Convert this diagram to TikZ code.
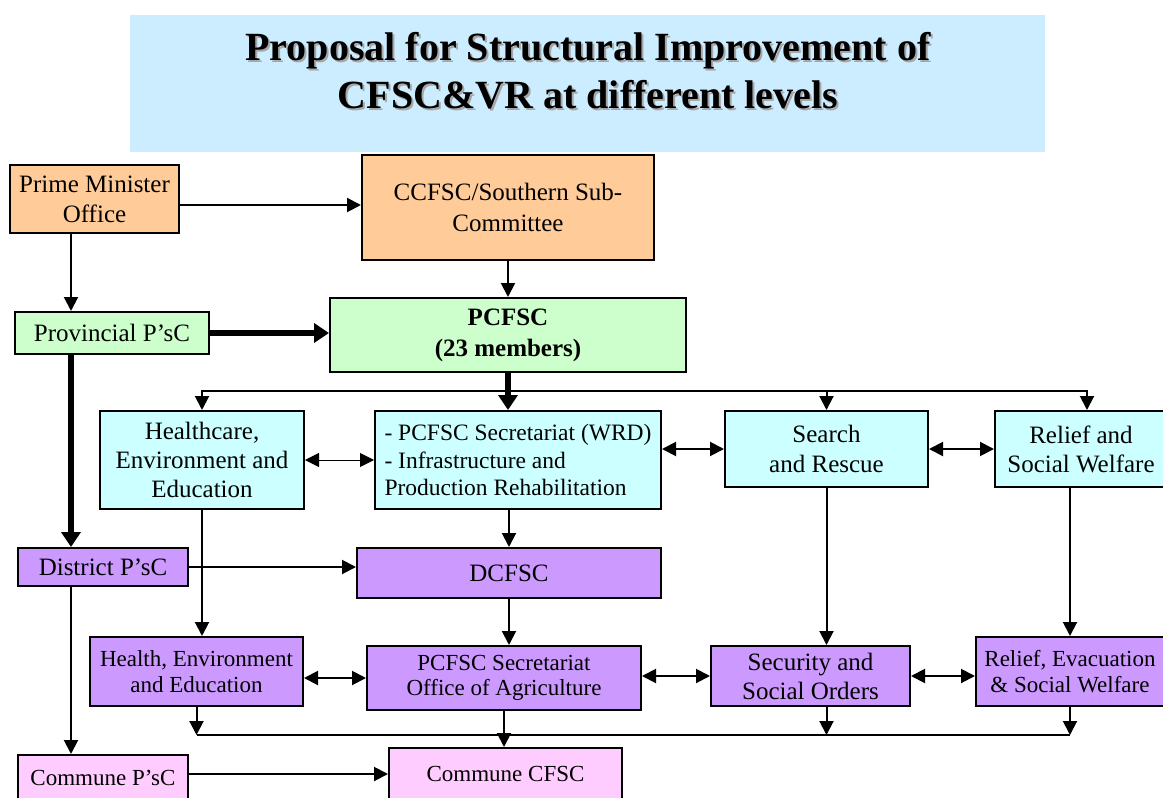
\documentclass[tikz,border=0pt]{standalone}
\usepackage{fontspec}
\setmainfont{Liberation Serif}
\usepackage{xcolor}
\usetikzlibrary{arrows.meta, positioning, calc}
\definecolor{titlebg}{HTML}{CCECFF}
\definecolor{orangebox}{HTML}{FFCC99}
\definecolor{greenbox}{HTML}{CCFFCC}
\definecolor{cyanbox}{HTML}{CCFFFF}
\definecolor{purplebox}{HTML}{CC99FF}
\definecolor{pinkbox}{HTML}{FFCCFF}

\begin{document}
\begin{tikzpicture}[
    x=1pt, y=-1pt,
    unit/.style={draw=black, line width=2pt, inner sep=3pt, align=center, font=\fontsize{25}{29}\selectfont},
    smallunit/.style={unit, font=\fontsize{23}{25.5}\selectfont},
    arrow/.style={-{Triangle[length=14pt, width=14pt]}, line width=2pt},
    twoway/.style={{Triangle[length=14pt, width=14pt]}-{Triangle[length=14pt, width=14pt]}, line width=2pt},
    heavy/.style={-{Triangle[length=15pt, width=19pt]}, line width=5.5pt}
]
\useasboundingbox (0,0) rectangle (1163,798);

% Title
\node[fill=titlebg, minimum width=915pt, minimum height=137pt, inner sep=0pt] (titlebox) at (587.5,83.5) {};
\node[text=black!35, font=\fontsize{40}{48}\selectfont\bfseries, align=center] (titleshadow) at (590,73) {Proposal for Structural Improvement of\\CFSC\&VR at different levels};
\node[font=\fontsize{40}{48}\selectfont\bfseries, align=center] (title) at (588,71) {Proposal for Structural Improvement of\\CFSC\&VR at different levels};

\coordinate (lcol) at (71,0);
\coordinate (bus1) at (0,391);
\coordinate (bus2) at (0,735);

% Central level
\node[unit, fill=orangebox, minimum width=169pt, minimum height=68pt, font=\fontsize{25}{30}\selectfont] (pmo) at (94.5,199) {Prime Minister\\Office};
\node[unit, fill=orangebox, minimum width=292pt, minimum height=105pt, font=\fontsize{25}{31}\selectfont] (ccfsc) at (508,207.5) {CCFSC/Southern Sub-\\Committee};

% Provincial level
\node[unit, fill=greenbox, minimum width=194pt, minimum height=42pt] (prov) at (112,333) {Provincial P'sC};
\node[unit, fill=greenbox, minimum width=356pt, minimum height=74pt, font=\fontsize{25}{31}\selectfont\bfseries] (pcfsc) at (508,335) {PCFSC\\(23 members)};

\node[unit, fill=cyanbox, minimum width=204pt, minimum height=98pt] (health) at (202,460) {Healthcare,\\Environment and\\Education};
\node[unit, fill=cyanbox, minimum width=286pt, minimum height=98pt, align=left, font=\fontsize{23.5}{27.5}\selectfont] (sec) at (518,460) {- PCFSC Secretariat (WRD)\\- Infrastructure and\\Production Rehabilitation};
\node[unit, fill=cyanbox, minimum width=203pt, minimum height=76pt, font=\fontsize{25}{30}\selectfont] (search) at (826.5,449) {Search\\and Rescue};
\node[unit, fill=cyanbox, minimum width=172pt, minimum height=76pt] (relief) at (1081,449) {Relief and\\Social Welfare};

% District level
\node[unit, fill=purplebox, minimum width=170pt, minimum height=38pt] (district) at (103,567) {District P'sC};
\node[unit, fill=purplebox, minimum width=304pt, minimum height=50pt] (dcfsc) at (509,573) {DCFSC};

\node[smallunit, fill=purplebox, minimum width=213pt, minimum height=69pt] (health2) at (196.5,671.5) {Health, Environment\\and Education};
\node[smallunit, fill=purplebox, minimum width=274pt, minimum height=64pt] (secagri) at (504,678) {PCFSC Secretariat\\Office of Agriculture};
\node[unit, fill=purplebox, minimum width=199pt, minimum height=60pt] (security) at (810.5,676) {Security and\\Social Orders};
\node[smallunit, fill=purplebox, minimum width=188pt, minimum height=69pt] (relief2) at (1070,671.5) {Relief, Evacuation\\\& Social Welfare};

% Commune level
\node[smallunit, fill=pinkbox, minimum width=170pt, minimum height=45pt] (commp) at (103,777.5) {Commune P'sC};
\node[smallunit, fill=pinkbox, minimum width=233pt, minimum height=52pt] (commcfsc) at (505.5,774) {Commune CFSC};

% Arrows between levels
\draw[arrow] ([yshift=-6pt]pmo.east) -- ([yshift=-6pt]pmo.east -| ccfsc.west);
\draw[arrow] (ccfsc.south) -- (ccfsc.south |- pcfsc.north);
\draw[arrow] (pmo.south -| lcol) -- (prov.north -| lcol);
\draw[heavy] (prov.east) -- (prov.east -| pcfsc.west);
\draw[heavy] (prov.south -| lcol) -- (district.north -| lcol);
\draw[heavy] (pcfsc.south) -- (pcfsc.south |- sec.north);
\draw[arrow] (pcfsc.south |- bus1) -| (health.north);
\draw[arrow] (pcfsc.south |- bus1) -| (search.north);
\draw[arrow] (pcfsc.south |- bus1) -| ([xshift=6pt]relief.north);

\draw[twoway, line width=0.8pt] (health.east) -- (health.east -| sec.west);
\draw[twoway] (search.west -| sec.east) -- (search.west);
\draw[twoway] (search.east) -- (relief.west);

\draw[arrow] (health.south) -- (health.south |- health2.north);
\draw[arrow] (dcfsc.north |- sec.south) -- (dcfsc.north);
\draw[arrow] (district.east) -- (district.east -| dcfsc.west);
\draw[arrow] (dcfsc.south) -- (dcfsc.south |- secagri.north);
\draw[arrow] (search.south) -- (search.south |- security.north);
\draw[arrow] (relief2.north |- relief.south) -- (relief2.north);
\draw[arrow] (district.south -| lcol) -- (commp.north -| lcol);

\draw[twoway] (secagri.west -| health2.east) -- (secagri.west);
\draw[twoway] (security.west -| secagri.east) -- (security.west);
\draw[twoway] (security.east) -- (security.east -| relief2.west);

\draw[line width=2pt] (health2.south |- bus2) -- (relief2.south |- bus2);
\draw[arrow] (health2.south) -- (health2.south |- bus2);
\draw[arrow] (search.south |- security.south) -- (search.south |- bus2);
\draw[arrow] (relief2.south) -- (relief2.south |- bus2);
\draw[arrow] (secagri.south) -- (secagri.south |- commcfsc.north);
\draw[arrow] (commcfsc.west -| commp.east) -- (commcfsc.west);

\end{tikzpicture}
\end{document}
